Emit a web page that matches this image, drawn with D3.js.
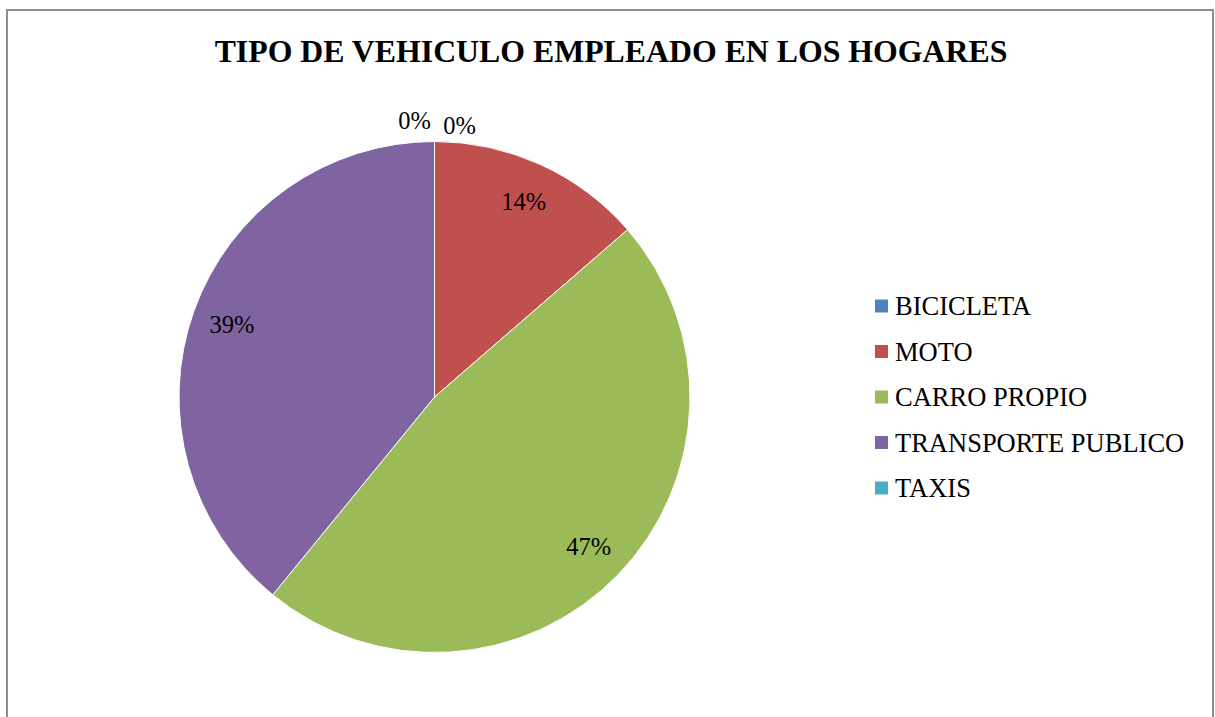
<!DOCTYPE html>
<html lang="es">
<head>
<meta charset="UTF-8" />
<title>Tipo de vehiculo empleado en los hogares</title>
<script src="https://d3js.org/d3.v7.min.js"></script>
<style>
  body {
    margin: 0;
    background: #fff;
  }
  svg {
    display: block;
    font-family: 'Liberation Serif', 'Times New Roman', serif;
  }
  .title {
    font-size: 31.8px;
    font-weight: bold;
  }
  .label {
    font-size: 24.5px;
    fill: #000;
  }
  .legend text {
    font-size: 26.5px;
    fill: #000;
  }
</style>
</head>
<body>
<div id="chart"></div>
<script>
// categories and values (households counted per vehicle type)
const categories = ['BICICLETA', 'MOTO', 'CARRO PROPIO', 'TRANSPORTE PUBLICO', 'TAXIS'];
const values = [0, 15, 52, 43, 0];
const colors = ['#4F81BD', '#C0504D', '#9BBB59', '#8064A2', '#4BACC6'];

const width = 1215, height = 717;
const cx = 434.5, cy = 397, radius = 255.5;

const data = categories.map((c, i) => ({ name: c, value: values[i], color: colors[i], index: i }));
const total = d3.sum(values);

const svg = d3.select("#chart").append("svg")
  .attr("width", width)
  .attr("height", height);

// frame
svg.append("rect")
  .attr("x", 7)
  .attr("y", 10)
  .attr("width", 1206)
  .attr("height", 720)
  .attr("fill", "#fff")
  .attr("stroke", "#8e8e8e")
  .attr("stroke-width", 2);

svg.append("text")
  .attr("class", "title")
  .attr("x", 611)
  .attr("y", 62)
  .attr("text-anchor", "middle")
  .text("TIPO DE VEHICULO EMPLEADO EN LOS HOGARES");

const pie = d3.pie().sort(null).value(d => d.value);
const arc = d3.arc().innerRadius(0).outerRadius(radius);
const labelArc = d3.arc().innerRadius(215).outerRadius(215);
const outerArc = d3.arc().innerRadius(radius + 22).outerRadius(radius + 22);

const g = svg.append("g").attr("transform", `translate(${cx},${cy})`);
const arcs = pie(data);

g.selectAll("path")
  .data(arcs)
  .enter().append("path")
  .attr("d", arc)
  .attr("fill", d => d.data.color)
  .attr("stroke", "#fff")
  .attr("stroke-width", 1);

const fmt = v => Math.round(v / total * 100) + "%";

g.selectAll(".label")
  .data(arcs)
  .enter().append("text")
  .attr("class", "label")
  .attr("text-anchor", "middle")
  .attr("dy", "0.35em")
  .attr("transform", d => {
    if (d.data.value > 0) return `translate(${labelArc.centroid(d)})`;
    // empty slices sit at the top: push them apart so both stay readable
    const [x, y] = outerArc.centroid(d);
    const shift = d.index === 0 ? 25 : -20;
    const lift = d.index === 0 ? 6 : 1;
    return `translate(${x + shift},${y + lift})`;
  })
  .text(d => fmt(d.data.value));

// legend
const legendY = d3.scalePoint().domain(categories).range([306, 488]);
const legend = svg.append("g").attr("class", "legend")
  .selectAll("g")
  .data(data)
  .enter().append("g")
  .attr("transform", d => `translate(875,${legendY(d.name)})`);

legend.append("rect")
  .attr("x", 0)
  .attr("y", -6.5)
  .attr("width", 13)
  .attr("height", 13)
  .attr("fill", d => d.color);

legend.append("text")
  .attr("x", 20)
  .attr("dy", "0.35em")
  .text(d => d.name);
</script>
</body>
</html>
